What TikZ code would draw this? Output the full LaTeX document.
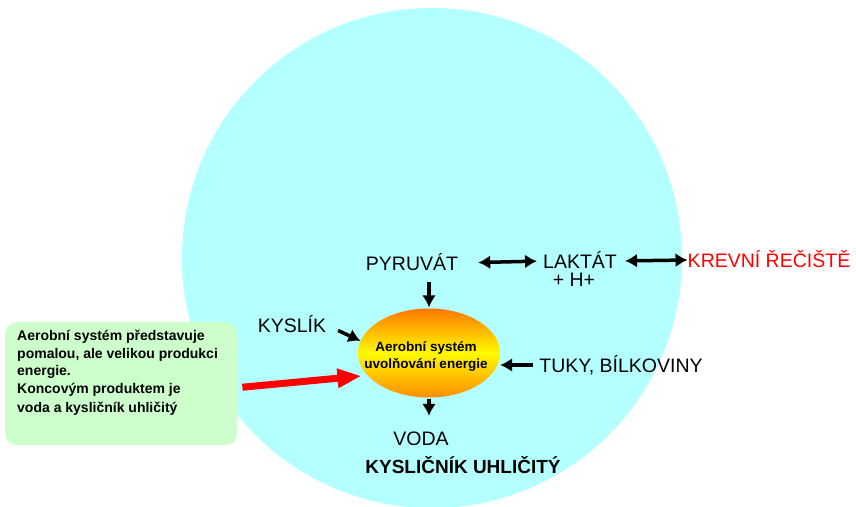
\documentclass[tikz,border=0pt]{standalone}
\usepackage{fontspec}
\setmainfont{Liberation Sans}
\usetikzlibrary{arrows.meta,shapes.geometric,calc}

\definecolor{cellblue}{RGB}{180,255,255}
\definecolor{notegreen}{RGB}{204,255,204}
\definecolor{ellorange}{RGB}{255,120,0}
\definecolor{ellyellow}{RGB}{255,250,0}

\tikzset{
	lbl/.style={font=\fontsize{19.5}{23}\selectfont, text height=14pt, text depth=0pt, inner sep=0pt},
	arr/.style={->, line width=3.5pt},
	dbl/.style={<->, line width=3.5pt},
}

\begin{document}
\begin{tikzpicture}[x=1pt,y=-1pt,>={Latex[length=12pt,width=14pt]}]

\useasboundingbox (0,0) rectangle (856,506);
\clip (0,0) rectangle (856,506);

% bunka
\fill[cellblue] (432,258) circle[radius=250];

% poznamka vlevo
\node (note) [fill=notegreen, rounded corners=12pt, minimum width=232pt,
	minimum height=123pt, anchor=north west] at (5,322) {};
\node (notetext) [anchor=north west, align=left, inner sep=0pt,
	font=\bfseries\fontsize{14}{17.5}\selectfont] at (17,330)
	{Aerobní systém představuje\\
	 pomalou, ale velikou produkci\\
	 energie.\\
	 Koncovým produktem je\\[2pt]
	 voda a kysličník uhličitý};

% aerobni system
\node (ell) [ellipse, minimum width=142pt, minimum height=89pt, inner sep=0pt,
	top color=ellorange, bottom color=ellorange!85!yellow, middle color=ellyellow]
	at (429,353) {};
\node (elltext) [align=center, inner sep=0pt, font=\bfseries\fontsize{13.5}{17}\selectfont]
	at (426,356) {Aerobní systém\\uvolňování energie};

\node (pyr) [lbl] at (412,263) {PYRUVÁT};
\node (lak) [lbl] at (580,261) {LAKTÁT};
\node (hplus) [lbl] at (574,279) {+ H+};
\node (krev) [lbl, text=red] at (769,260) {KREVNÍ ŘEČIŠTĚ};
\node (kys) [lbl] at (292,325) {KYSLÍK};
\node (tuky) [lbl] at (621,365) {TUKY, BÍLKOVINY};
\node (voda) [lbl] at (421,438) {VODA};
\node (co2) [lbl, font=\bfseries\fontsize{19}{23}\selectfont] at (463,466) {KYSLIČNÍK UHLIČITÝ};

% sipky
\draw[arr, shorten <=12pt, shorten >=1pt] (pyr.south -| ell.north) -- (ell.north);
\draw[dbl, shorten <=20pt, shorten >=6pt] (pyr.east) -- (lak.west);
\draw[dbl, shorten <=8pt] (lak.east) -- (krev.west);
\draw[arr, shorten <=13pt] (kys.east) -- (ell.170);
\draw[arr, shorten <=6pt] (tuky.west) -- (tuky.west -| ell.east);
\draw[arr, shorten <=1pt, shorten >=15pt] (ell.south) -- (voda.north -| ell.south);

\draw[-{Triangle[length=24pt,width=18pt]}, red, line width=7pt, shorten <=5pt, shorten >=6pt]
	([yshift=-4pt]note.east) -- (ell.200);

\end{tikzpicture}
\end{document}
